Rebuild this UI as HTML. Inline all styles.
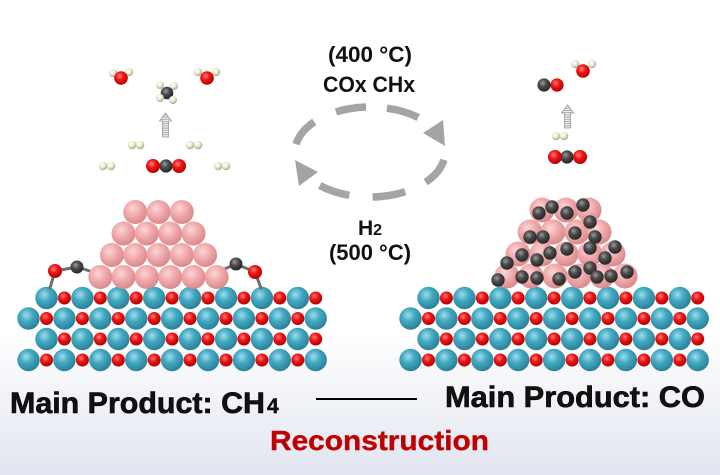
<!DOCTYPE html>
<html><head><meta charset="utf-8">
<style>
html,body{margin:0;padding:0;background:#fff;}
svg{display:block;}
.b{fill:url(#gb);}
.r{fill:url(#gr);}
.p{fill:url(#gp);}
.d{fill:url(#gd);}
.h{fill:url(#gh);}
.t{font-family:"Liberation Sans",Arial,sans-serif;font-weight:bold;fill:#111;}
</style></head>
<body>
<svg width="720" height="475" viewBox="0 0 720 475" xmlns="http://www.w3.org/2000/svg">
<defs>
<linearGradient id="bg" x1="0" y1="0" x2="0" y2="1">
<stop offset="0" stop-color="#ffffff"/><stop offset="0.7" stop-color="#ffffff"/><stop offset="1" stop-color="#e1e5ef"/>
</linearGradient>
<radialGradient id="gb" cx="0.4" cy="0.35" r="0.65"><stop offset="0" stop-color="#9fdcea"/><stop offset="0.45" stop-color="#42a9c2"/><stop offset="1" stop-color="#2b8098"/></radialGradient>
<radialGradient id="gr" cx="0.4" cy="0.35" r="0.65"><stop offset="0" stop-color="#ff8080"/><stop offset="0.45" stop-color="#f01515"/><stop offset="1" stop-color="#b30000"/></radialGradient>
<radialGradient id="gp" cx="0.4" cy="0.35" r="0.65"><stop offset="0" stop-color="#fbd6d6"/><stop offset="0.5" stop-color="#f1a9ab"/><stop offset="1" stop-color="#d88a8c"/></radialGradient>
<radialGradient id="gd" cx="0.4" cy="0.35" r="0.65"><stop offset="0" stop-color="#9a9a9a"/><stop offset="0.45" stop-color="#4a4a4a"/><stop offset="1" stop-color="#262626"/></radialGradient>
<radialGradient id="gh" cx="0.4" cy="0.35" r="0.65"><stop offset="0" stop-color="#ffffff"/><stop offset="0.5" stop-color="#ececd2"/><stop offset="1" stop-color="#a8a88a"/></radialGradient>
<pattern id="hatch" width="4" height="2.2" patternUnits="userSpaceOnUse">
<rect width="4" height="2.2" fill="#f4f4f4"/><rect y="0" width="4" height="1" fill="#a8a8a8"/>
</pattern>
</defs>
<rect width="720" height="475" fill="url(#bg)"/>

<!-- LEFT SLAB -->
<g>
<g>
<circle class="b" cx="46.5" cy="298" r="11.2"/><circle class="b" cx="82.4" cy="298" r="11.2"/><circle class="b" cx="118.3" cy="298" r="11.2"/><circle class="b" cx="154.2" cy="298" r="11.2"/><circle class="b" cx="190.1" cy="298" r="11.2"/><circle class="b" cx="226" cy="298" r="11.2"/><circle class="b" cx="261.9" cy="298" r="11.2"/><circle class="b" cx="297.8" cy="298" r="11.2"/>
<circle class="r" cx="64.4" cy="298" r="6.5"/><circle class="r" cx="100.3" cy="298" r="6.5"/><circle class="r" cx="136.2" cy="298" r="6.5"/><circle class="r" cx="172.1" cy="298" r="6.5"/><circle class="r" cx="208" cy="298" r="6.5"/><circle class="r" cx="243.9" cy="298" r="6.5"/><circle class="r" cx="279.8" cy="298" r="6.5"/><circle class="r" cx="315.7" cy="298" r="6.5"/>
</g>
<g>
<circle class="b" cx="28.5" cy="318.5" r="11.2"/><circle class="b" cx="64.4" cy="318.5" r="11.2"/><circle class="b" cx="100.3" cy="318.5" r="11.2"/><circle class="b" cx="136.2" cy="318.5" r="11.2"/><circle class="b" cx="172.1" cy="318.5" r="11.2"/><circle class="b" cx="208" cy="318.5" r="11.2"/><circle class="b" cx="243.9" cy="318.5" r="11.2"/><circle class="b" cx="279.8" cy="318.5" r="11.2"/><circle class="b" cx="315.7" cy="318.5" r="11.2"/>
<circle class="r" cx="46.5" cy="318.5" r="6.5"/><circle class="r" cx="82.4" cy="318.5" r="6.5"/><circle class="r" cx="118.3" cy="318.5" r="6.5"/><circle class="r" cx="154.2" cy="318.5" r="6.5"/><circle class="r" cx="190.1" cy="318.5" r="6.5"/><circle class="r" cx="226" cy="318.5" r="6.5"/><circle class="r" cx="261.9" cy="318.5" r="6.5"/><circle class="r" cx="297.8" cy="318.5" r="6.5"/>
</g>
<g>
<circle class="b" cx="46.5" cy="339" r="11.2"/><circle class="b" cx="82.4" cy="339" r="11.2"/><circle class="b" cx="118.3" cy="339" r="11.2"/><circle class="b" cx="154.2" cy="339" r="11.2"/><circle class="b" cx="190.1" cy="339" r="11.2"/><circle class="b" cx="226" cy="339" r="11.2"/><circle class="b" cx="261.9" cy="339" r="11.2"/><circle class="b" cx="297.8" cy="339" r="11.2"/>
<circle class="r" cx="64.4" cy="339" r="6.5"/><circle class="r" cx="100.3" cy="339" r="6.5"/><circle class="r" cx="136.2" cy="339" r="6.5"/><circle class="r" cx="172.1" cy="339" r="6.5"/><circle class="r" cx="208" cy="339" r="6.5"/><circle class="r" cx="243.9" cy="339" r="6.5"/><circle class="r" cx="279.8" cy="339" r="6.5"/><circle class="r" cx="315.7" cy="339" r="6.5"/>
</g>
<g>
<circle class="b" cx="28.5" cy="360" r="11.2"/><circle class="b" cx="64.4" cy="360" r="11.2"/><circle class="b" cx="100.3" cy="360" r="11.2"/><circle class="b" cx="136.2" cy="360" r="11.2"/><circle class="b" cx="172.1" cy="360" r="11.2"/><circle class="b" cx="208" cy="360" r="11.2"/><circle class="b" cx="243.9" cy="360" r="11.2"/><circle class="b" cx="279.8" cy="360" r="11.2"/><circle class="b" cx="315.7" cy="360" r="11.2"/>
<circle class="r" cx="46.5" cy="360" r="6.5"/><circle class="r" cx="82.4" cy="360" r="6.5"/><circle class="r" cx="118.3" cy="360" r="6.5"/><circle class="r" cx="154.2" cy="360" r="6.5"/><circle class="r" cx="190.1" cy="360" r="6.5"/><circle class="r" cx="226" cy="360" r="6.5"/><circle class="r" cx="261.9" cy="360" r="6.5"/><circle class="r" cx="297.8" cy="360" r="6.5"/>
</g>
</g>

<!-- RIGHT SLAB -->
<g transform="translate(382 0)">
<g>
<circle class="b" cx="46.5" cy="298" r="11.2"/><circle class="b" cx="82.4" cy="298" r="11.2"/><circle class="b" cx="118.3" cy="298" r="11.2"/><circle class="b" cx="154.2" cy="298" r="11.2"/><circle class="b" cx="190.1" cy="298" r="11.2"/><circle class="b" cx="226" cy="298" r="11.2"/><circle class="b" cx="261.9" cy="298" r="11.2"/><circle class="b" cx="297.8" cy="298" r="11.2"/>
<circle class="r" cx="64.4" cy="298" r="6.5"/><circle class="r" cx="100.3" cy="298" r="6.5"/><circle class="r" cx="136.2" cy="298" r="6.5"/><circle class="r" cx="172.1" cy="298" r="6.5"/><circle class="r" cx="208" cy="298" r="6.5"/><circle class="r" cx="243.9" cy="298" r="6.5"/><circle class="r" cx="279.8" cy="298" r="6.5"/><circle class="r" cx="315.7" cy="298" r="6.5"/>
</g>
<g>
<circle class="b" cx="28.5" cy="318.5" r="11.2"/><circle class="b" cx="64.4" cy="318.5" r="11.2"/><circle class="b" cx="100.3" cy="318.5" r="11.2"/><circle class="b" cx="136.2" cy="318.5" r="11.2"/><circle class="b" cx="172.1" cy="318.5" r="11.2"/><circle class="b" cx="208" cy="318.5" r="11.2"/><circle class="b" cx="243.9" cy="318.5" r="11.2"/><circle class="b" cx="279.8" cy="318.5" r="11.2"/><circle class="b" cx="315.7" cy="318.5" r="11.2"/>
<circle class="r" cx="46.5" cy="318.5" r="6.5"/><circle class="r" cx="82.4" cy="318.5" r="6.5"/><circle class="r" cx="118.3" cy="318.5" r="6.5"/><circle class="r" cx="154.2" cy="318.5" r="6.5"/><circle class="r" cx="190.1" cy="318.5" r="6.5"/><circle class="r" cx="226" cy="318.5" r="6.5"/><circle class="r" cx="261.9" cy="318.5" r="6.5"/><circle class="r" cx="297.8" cy="318.5" r="6.5"/>
</g>
<g>
<circle class="b" cx="46.5" cy="339" r="11.2"/><circle class="b" cx="82.4" cy="339" r="11.2"/><circle class="b" cx="118.3" cy="339" r="11.2"/><circle class="b" cx="154.2" cy="339" r="11.2"/><circle class="b" cx="190.1" cy="339" r="11.2"/><circle class="b" cx="226" cy="339" r="11.2"/><circle class="b" cx="261.9" cy="339" r="11.2"/><circle class="b" cx="297.8" cy="339" r="11.2"/>
<circle class="r" cx="64.4" cy="339" r="6.5"/><circle class="r" cx="100.3" cy="339" r="6.5"/><circle class="r" cx="136.2" cy="339" r="6.5"/><circle class="r" cx="172.1" cy="339" r="6.5"/><circle class="r" cx="208" cy="339" r="6.5"/><circle class="r" cx="243.9" cy="339" r="6.5"/><circle class="r" cx="279.8" cy="339" r="6.5"/><circle class="r" cx="315.7" cy="339" r="6.5"/>
</g>
<g>
<circle class="b" cx="28.5" cy="360" r="11.2"/><circle class="b" cx="64.4" cy="360" r="11.2"/><circle class="b" cx="100.3" cy="360" r="11.2"/><circle class="b" cx="136.2" cy="360" r="11.2"/><circle class="b" cx="172.1" cy="360" r="11.2"/><circle class="b" cx="208" cy="360" r="11.2"/><circle class="b" cx="243.9" cy="360" r="11.2"/><circle class="b" cx="279.8" cy="360" r="11.2"/><circle class="b" cx="315.7" cy="360" r="11.2"/>
<circle class="r" cx="46.5" cy="360" r="6.5"/><circle class="r" cx="82.4" cy="360" r="6.5"/><circle class="r" cx="118.3" cy="360" r="6.5"/><circle class="r" cx="154.2" cy="360" r="6.5"/><circle class="r" cx="190.1" cy="360" r="6.5"/><circle class="r" cx="226" cy="360" r="6.5"/><circle class="r" cx="261.9" cy="360" r="6.5"/><circle class="r" cx="297.8" cy="360" r="6.5"/>
</g>
</g>

<!-- LEFT bonds + CO -->
<g stroke="#6e6e6e" stroke-width="3" stroke-linecap="round">
<line x1="55" y1="271" x2="50" y2="288"/><line x1="55" y1="271" x2="77" y2="267"/><line x1="77" y1="267" x2="96" y2="273"/>
<line x1="236" y1="264" x2="220" y2="271"/><line x1="236" y1="264" x2="255" y2="272"/><line x1="255" y1="272" x2="261" y2="288"/>
</g>
<circle class="r" cx="55" cy="271" r="7"/><circle class="d" cx="77" cy="267" r="6.5"/>
<circle class="d" cx="236" cy="264" r="6.5"/><circle class="r" cx="255" cy="272" r="7"/>

<!-- LEFT pink cluster -->
<g>
<circle class="p" cx="135.2" cy="212" r="12"/><circle class="p" cx="158.5" cy="212" r="12"/><circle class="p" cx="181.8" cy="212" r="12"/>
<circle class="p" cx="123.5" cy="233.5" r="12"/><circle class="p" cx="146.8" cy="233.5" r="12"/><circle class="p" cx="170.2" cy="233.5" r="12"/><circle class="p" cx="193.5" cy="233.5" r="12"/>
<circle class="p" cx="111.9" cy="255" r="12"/><circle class="p" cx="135.2" cy="255" r="12"/><circle class="p" cx="158.5" cy="255" r="12"/><circle class="p" cx="181.8" cy="255" r="12"/><circle class="p" cx="205.1" cy="255" r="12"/>
<circle class="p" cx="100.3" cy="277" r="12"/><circle class="p" cx="123.5" cy="277" r="12"/><circle class="p" cx="146.8" cy="277" r="12"/><circle class="p" cx="170.2" cy="277" r="12"/><circle class="p" cx="193.5" cy="277" r="12"/><circle class="p" cx="216.7" cy="277" r="12"/>
</g>

<!-- RIGHT pink cluster -->
<g>
<circle class="p" cx="542" cy="210" r="12.5"/><circle class="p" cx="566" cy="210" r="12.5"/><circle class="p" cx="589" cy="210" r="12.5"/>
<circle class="p" cx="530" cy="232" r="12.5"/><circle class="p" cx="553" cy="232" r="12.5"/><circle class="p" cx="577" cy="232" r="12.5"/><circle class="p" cx="599" cy="232" r="12.5"/>
<circle class="p" cx="518" cy="254" r="12.5"/><circle class="p" cx="542" cy="254" r="12.5"/><circle class="p" cx="566" cy="254" r="12.5"/><circle class="p" cx="590" cy="254" r="12.5"/><circle class="p" cx="613" cy="254" r="12.5"/>
<circle class="p" cx="507" cy="276" r="12.5"/><circle class="p" cx="531" cy="276" r="12.5"/><circle class="p" cx="555" cy="276" r="12.5"/><circle class="p" cx="579" cy="276" r="12.5"/><circle class="p" cx="602" cy="276" r="12.5"/><circle class="p" cx="625" cy="276" r="12.5"/>
</g>
<g>
<circle class="d" cx="539" cy="213" r="6.7"/><circle class="d" cx="552" cy="207" r="6.7"/><circle class="d" cx="567" cy="213" r="6.7"/><circle class="d" cx="583" cy="205" r="6.7"/><circle class="d" cx="590" cy="222" r="6.7"/>
<circle class="d" cx="530" cy="237" r="6.7"/><circle class="d" cx="543" cy="237" r="6.7"/><circle class="d" cx="575" cy="233" r="6.7"/><circle class="d" cx="595" cy="237" r="6.7"/>
<circle class="d" cx="522" cy="255" r="6.7"/><circle class="d" cx="537" cy="260" r="6.7"/><circle class="d" cx="550" cy="253" r="6.7"/><circle class="d" cx="567" cy="249" r="6.7"/><circle class="d" cx="590" cy="248" r="6.7"/><circle class="d" cx="605" cy="258" r="6.7"/><circle class="d" cx="615" cy="247" r="6.7"/>
<circle class="d" cx="507" cy="263" r="6.7"/><circle class="d" cx="498" cy="280" r="6.7"/><circle class="d" cx="522" cy="277" r="6.7"/><circle class="d" cx="537" cy="278" r="6.7"/><circle class="d" cx="559" cy="279" r="6.7"/><circle class="d" cx="575" cy="272" r="6.7"/><circle class="d" cx="590" cy="268" r="6.7"/><circle class="d" cx="597" cy="277" r="6.7"/><circle class="d" cx="611" cy="276" r="6.7"/><circle class="d" cx="627" cy="272" r="6.7"/>
</g>

<!-- LEFT gas molecules -->
<circle class="h" cx="113" cy="73" r="4.2"/><circle class="h" cx="129" cy="72" r="4.2"/><circle class="r" cx="121" cy="78" r="6.8"/>
<circle class="h" cx="198" cy="72" r="4.2"/><circle class="h" cx="216" cy="72" r="4.2"/><circle class="r" cx="207" cy="78" r="6.8"/>
<circle class="h" cx="160" cy="85" r="4"/><circle class="h" cx="174" cy="86" r="4"/><circle class="d" cx="167" cy="93" r="6.3"/><circle class="h" cx="160" cy="98" r="4"/><circle class="h" cx="173" cy="100" r="4"/>
<path d="M165.5 113 L171.5 121 L168.5 121 L168.5 137 L162.5 137 L162.5 121 L159.5 121 Z" fill="url(#hatch)" stroke="#9a9a9a" stroke-width="0.8"/>
<circle class="h" cx="132" cy="145" r="4.3"/><circle class="h" cx="140" cy="145" r="4.3"/>
<circle class="h" cx="190" cy="145" r="4.3"/><circle class="h" cx="198" cy="145" r="4.3"/>
<circle class="h" cx="103" cy="166" r="4.3"/><circle class="h" cx="111" cy="166" r="4.3"/>
<circle class="h" cx="218" cy="166" r="4.3"/><circle class="h" cx="226" cy="166" r="4.3"/>
<circle class="d" cx="166" cy="166" r="6.6"/><circle class="r" cx="153" cy="166" r="7"/><circle class="r" cx="179" cy="166" r="7"/>

<!-- RIGHT gas molecules -->
<circle class="h" cx="575" cy="64" r="4.2"/><circle class="h" cx="592" cy="64" r="4.2"/><circle class="r" cx="583" cy="71" r="6.8"/>
<circle class="d" cx="544" cy="85" r="6.6"/><circle class="r" cx="557" cy="85" r="6.6"/>
<path d="M567.5 105 L573.5 113 L570.5 113 L570.5 128 L564.5 128 L564.5 113 L561.5 113 Z" fill="url(#hatch)" stroke="#9a9a9a" stroke-width="0.8"/>
<circle class="h" cx="556" cy="136" r="4.3"/><circle class="h" cx="564" cy="136" r="4.3"/>
<circle class="d" cx="567" cy="157" r="6.6"/><circle class="r" cx="555" cy="157" r="7"/><circle class="r" cx="580" cy="157" r="7"/>

<!-- dashed cycle -->
<g fill="none" stroke="#a4a4a4" stroke-width="7.5" stroke-linecap="butt">
<path d="M296.1 144.2 A75 45 0 0 1 314.3 121.9"/>
<path d="M336 111.9 A75 45 0 0 1 366.1 107"/>
<path d="M386.9 108.2 A75 45 0 0 1 418.2 117.5"/>
<path d="M443.9 159.8 A75 45 0 0 1 425.7 182.1"/>
<path d="M405.2 191.7 A75 45 0 0 1 372.6 197"/>
<path d="M349.3 195.3 A75 45 0 0 1 319.8 185.4"/>
</g>
<polygon points="443,120 445,146 423,133" fill="#a4a4a4"/>
<polygon points="295,160 299,186 318,172" fill="#a4a4a4"/>

<!-- center labels -->
<text class="t" x="370" y="62" font-size="22" text-anchor="middle" textLength="84" lengthAdjust="spacingAndGlyphs">(400 °C)</text>
<text class="t" x="369" y="92" font-size="22" text-anchor="middle" textLength="92" lengthAdjust="spacingAndGlyphs">COx CHx</text>
<text class="t" x="358" y="235" font-size="21">H<tspan font-size="16">2</tspan></text>
<text class="t" x="370" y="260" font-size="22" text-anchor="middle" textLength="82" lengthAdjust="spacingAndGlyphs">(500 °C)</text>

<!-- bottom labels -->
<text class="t" x="10" y="413" font-size="30" textLength="255" lengthAdjust="spacingAndGlyphs" fill="#000" stroke="#000" stroke-width="0.6">Main Product: CH</text>
<text class="t" x="267" y="413" font-size="21" fill="#000" stroke="#000" stroke-width="0.4">4</text>
<line x1="316" y1="399" x2="417" y2="399" stroke="#000" stroke-width="2"/>
<text class="t" x="445" y="407" font-size="30" textLength="260" lengthAdjust="spacingAndGlyphs" fill="#000" stroke="#000" stroke-width="0.6">Main Product: CO</text>
<text x="270" y="450" font-family="Liberation Sans, Arial, sans-serif" font-weight="bold" font-size="28" fill="#c00000" stroke="#c00000" stroke-width="0.4" textLength="219" lengthAdjust="spacingAndGlyphs">Reconstruction</text>
</svg>
</body></html>
